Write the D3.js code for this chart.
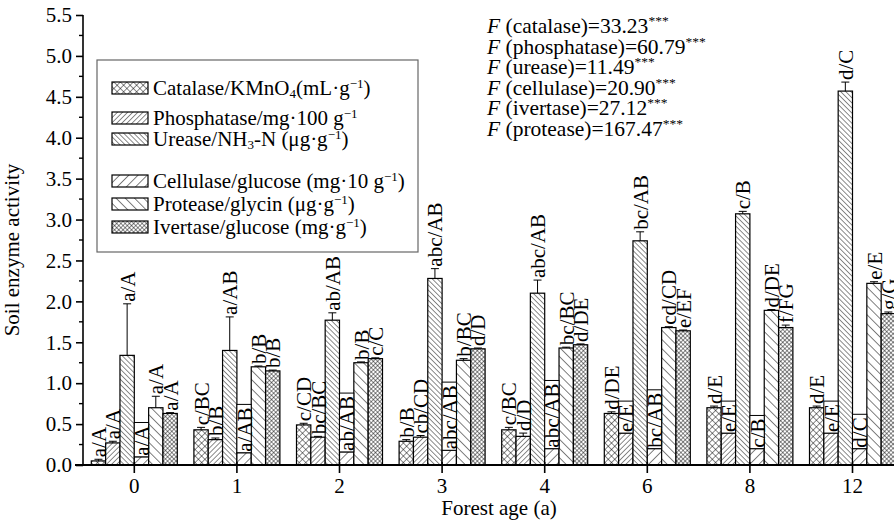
<!DOCTYPE html>
<html>
<head>
<meta charset="utf-8">
<script src="https://cdn.jsdelivr.net/npm/d3@7"></script>
<style>
  body { margin: 0; background: #fff; }
  svg { display: block; font-family: "Liberation Serif", "Times New Roman", serif; }
</style>
</head>
<body>
<div id="chart"></div>
<script>
// forest ages (x categories)
const ages = ["0", "1", "2", "3", "4", "6", "8", "12"];

// enzyme series
const seriesNames = ["Catalase", "Phosphatase", "Urease", "Cellulase", "Protease", "Ivertase"];
const catalase    = [0.05, 0.43, 0.49, 0.29, 0.43, 0.63, 0.70, 0.70];
const phosphatase = [0.27, 0.31, 0.34, 0.34, 0.35, 0.39, 0.39, 0.39];
const urease      = [1.34, 1.40, 1.77, 2.28, 2.10, 2.74, 3.07, 4.57];
const cellulase   = [0.10, 0.15, 0.16, 0.18, 0.20, 0.20, 0.20, 0.20];
const protease    = [0.70, 1.20, 1.25, 1.28, 1.43, 1.68, 1.89, 2.22];
const ivertase    = [0.63, 1.15, 1.30, 1.42, 1.47, 1.64, 1.68, 1.85];

// standard errors (upper bars only)
const catalaseErr    = [0.02, 0.03, 0.02, 0.02, 0.03, 0.02, 0.02, 0.02];
const phosphataseErr = [0.02, 0.02, 0.01, 0.02, 0.04, 0.02, 0.02, 0.02];
const ureaseErr      = [0.63, 0.41, 0.09, 0.12, 0.16, 0.11, 0.03, 0.11];
const cellulaseErr   = [0.01, 0.01, 0.01, 0.01, 0.01, 0.01, 0.01, 0.01];
const proteaseErr    = [0.14, 0.01, 0.01, 0.02, 0.01, 0.01, 0.01, 0.02];
const ivertaseErr    = [0.01, 0.01, 0.01, 0.01, 0.01, 0.01, 0.03, 0.02];

// significance letters
const catalaseLab    = ["a/A", "c/BC", "c/CD", "b/B", "c/BC", "d/DE", "d/E", "d/E"];
const phosphataseLab = ["a/A", "b/B", "bc/BC", "cb/CD", "d/D", "e/E", "e/E", "e/E"];
const ureaseLab      = ["a/A", "a/AB", "ab/AB", "abc/AB", "abc/AB", "bc/AB", "c/B", "d/C"];
const cellulaseLab   = ["a/A", "a/AB", "ab/AB", "abc/AB", "abc/AB", "bc/AB", "c/B", "d/C"];
const proteaseLab    = ["a/A", "b/B", "b/B", "b/BC", "bc/BC", "cd/CD", "d/DE", "e/E"];
const ivertaseLab    = ["a/A", "b/B", "c/C", "d/D", "d/DE", "e/EF", "f/FG", "g/G"];

// F statistics
const fNames  = ["catalase", "phosphatase", "urease", "cellulase", "ivertase", "protease"];
const fValues = ["33.23", "60.79", "11.49", "20.90", "27.12", "167.47"];

const yTicks = [0, 0.5, 1, 1.5, 2, 2.5, 3, 3.5, 4, 4.5, 5, 5.5];

const values = [catalase, phosphatase, urease, cellulase, protease, ivertase];
const errs = [catalaseErr, phosphataseErr, ureaseErr, cellulaseErr, proteaseErr, ivertaseErr];
const labs = [catalaseLab, phosphataseLab, ureaseLab, cellulaseLab, proteaseLab, ivertaseLab];

const width = 894, height = 521;
const plotLeft = 83, plotTop = 15, plotBottom = 465;
const fs = 21;

const svg = d3.select("#chart").append("svg")
  .attr("width", width)
  .attr("height", height);

// hatch patterns
const defs = svg.append("defs");
function hatch(id, size, angle, cross, sw) {
  const p = defs.append("pattern")
    .attr("id", id)
    .attr("patternUnits", "userSpaceOnUse")
    .attr("width", size).attr("height", size)
    .attr("patternTransform", `rotate(${angle})`);
  p.append("rect").attr("width", size).attr("height", size).attr("fill", "#fff");
  p.append("line").attr("x1", 0).attr("y1", 0).attr("x2", 0).attr("y2", size)
    .attr("stroke", "#000").attr("stroke-width", sw);
  if (cross) {
    p.append("line").attr("x1", 0).attr("y1", 0).attr("x2", size).attr("y2", 0)
      .attr("stroke", "#000").attr("stroke-width", sw);
  }
}
hatch("pCat", 4.6, 45, true, 0.9);
hatch("pPho", 3.6, 45, false, 0.9);
hatch("pUre", 3.6, -45, false, 0.9);
hatch("pCel", 6.5, 45, false, 1);
hatch("pPro", 6.5, -45, false, 1);
hatch("pIve", 3.0, 45, true, 0.9);
const fills = ["url(#pCat)", "url(#pPho)", "url(#pUre)", "url(#pCel)", "url(#pPro)", "url(#pIve)"];

const x = d3.scaleBand().domain(ages).range([plotLeft, plotLeft + 8 * 102.6]);
const xs = d3.scaleBand().domain(seriesNames).range([-43, 43]);
const y = d3.scaleLinear().domain([0, 5.5]).range([plotBottom, plotTop]);

// y axis with minor ticks
const yAxis = svg.append("g").attr("transform", `translate(${plotLeft},0)`)
  .call(d3.axisLeft(y).tickValues(yTicks).tickFormat(d3.format(".1f")).tickSize(7).tickPadding(4))
  .attr("font-family", null).attr("font-size", null);
yAxis.selectAll(".tick line").attr("stroke-width", 1.6);
yAxis.select(".domain").attr("stroke-width", 1.6).attr("d", `M0,${plotBottom}V${plotTop}`);
yAxis.selectAll("text").attr("font-size", fs).attr("fill", "#000");
svg.append("g").selectAll("line")
  .data(d3.range(0.25, 5.5, 0.5))
  .join("line")
  .attr("x1", plotLeft - 4).attr("x2", plotLeft)
  .attr("y1", d => y(d)).attr("y2", d => y(d))
  .attr("stroke", "#000").attr("stroke-width", 1.4);

const groups = svg.append("g");
ages.forEach((age, gi) => {
  const cx = x(age) + x.bandwidth() / 2;
  seriesNames.forEach((s, si) => {
    const v = values[si][gi];
    groups.append("rect")
      .attr("x", cx + xs(s)).attr("y", y(v))
      .attr("width", xs.bandwidth()).attr("height", plotBottom - y(v))
      .attr("fill", fills[si]).attr("stroke", "#000").attr("stroke-width", 1.2);
  });
});

// x axis on top of bars
const xAxis = svg.append("g").attr("transform", `translate(0,${plotBottom})`)
  .call(d3.axisBottom(x).tickSize(8).tickPadding(5).tickSizeOuter(0))
  .attr("font-family", null).attr("font-size", null);
xAxis.select(".domain").attr("stroke-width", 1.8).attr("d", `M${plotLeft - 8},0H${width + 20}`);
xAxis.selectAll(".tick line").attr("stroke-width", 1.6).attr("y1", -3);
xAxis.selectAll("text").attr("font-size", fs).attr("fill", "#000");

// error bars and letters
const ann = svg.append("g");
ages.forEach((age, gi) => {
  const cx = x(age) + x.bandwidth() / 2;
  seriesNames.forEach((s, si) => {
    const v = values[si][gi], e = errs[si][gi];
    const mx = cx + xs(s) + xs.bandwidth() / 2;
    const prev = si > 0 ? values[si - 1][gi] : -1;
    const next = si < seriesNames.length - 1 ? values[si + 1][gi] : -1;
    // letters squeezed between two clearly taller bars get a framed white box
    const framed = prev - v > 0.2 && next - v > 0.2;
    const t = ann.append("text")
      .attr("font-size", 21)
      .attr("text-anchor", "start")
      .attr("dominant-baseline", "central")
      .text(labs[si][gi]);
    if (framed) {
      const len = t.node().getComputedTextLength();
      ann.insert("rect", () => t.node())
        .attr("x", cx + xs(s)).attr("width", xs.bandwidth())
        .attr("y", y(v) - len - 4).attr("height", len + 4)
        .attr("fill", "#fff").attr("stroke", "#000").attr("stroke-width", 1);
      t.attr("transform", `translate(${mx + 0.5},${y(v) - 1}) rotate(-90)`);
    } else {
      ann.append("line")
        .attr("x1", mx).attr("x2", mx)
        .attr("y1", y(v)).attr("y2", y(v + e))
        .attr("stroke", "#000").attr("stroke-width", 1);
      ann.append("line")
        .attr("x1", mx - 4).attr("x2", mx + 4)
        .attr("y1", y(v + e)).attr("y2", y(v + e))
        .attr("stroke", "#000").attr("stroke-width", 1);
      t.attr("transform", `translate(${mx + 0.5},${y(v + e) - 2}) rotate(-90)`);
    }
  });
});

// axis titles
svg.append("text")
  .attr("transform", `translate(19,250) rotate(-90)`)
  .attr("text-anchor", "middle").attr("font-size", fs)
  .text("Soil enzyme activity");
svg.append("text")
  .attr("x", 499).attr("y", 515)
  .attr("text-anchor", "middle").attr("font-size", fs)
  .text("Forest age (a)");

// legend
const legend = svg.append("g");
legend.append("rect")
  .attr("x", 97).attr("y", 60).attr("width", 321).attr("height", 192)
  .attr("fill", "#fff").attr("stroke", "#666").attr("stroke-width", 1.2);
const legendY = [88, 118, 139, 181, 204, 227];
const legendParts = [
  [["Catalase/KMnO", 0], ["4", -1], ["(mL·g", 0], ["−1", 1], [")", 0]],
  [["Phosphatase/mg·100 g", 0], ["−1", 1]],
  [["Urease/NH", 0], ["3", -1], ["-N (μg·g", 0], ["−1", 1], [")", 0]],
  [["Cellulase/glucose (mg·10 g", 0], ["−1", 1], [")", 0]],
  [["Protease/glycin (μg·g", 0], ["−1", 1], [")", 0]],
  [["Ivertase/glucose (mg·g", 0], ["−1", 1], [")", 0]]
];
seriesNames.forEach((s, i) => {
  legend.append("rect")
    .attr("x", 112).attr("y", legendY[i] - 6).attr("width", 36).attr("height", 12)
    .attr("fill", fills[i]).attr("stroke", "#000").attr("stroke-width", 1.2);
  const t = legend.append("text")
    .attr("x", 153).attr("y", legendY[i] + 7).attr("font-size", fs);
  legendParts[i].forEach(([str, shift]) => {
    const sp = t.append("tspan").text(str);
    if (shift !== 0) {
      sp.attr("font-size", 13).attr("baseline-shift", shift > 0 ? "55%" : "-25%");
    }
  });
});

// F statistics block
const fBlock = svg.append("g");
fNames.forEach((n, i) => {
  const t = fBlock.append("text")
    .attr("x", 487).attr("y", 33 + i * 20.6).attr("font-size", 21.5);
  t.append("tspan").attr("font-style", "italic").text("F");
  t.append("tspan").text(` (${n})=${fValues[i]}`);
  t.append("tspan").attr("font-size", 13.5).attr("baseline-shift", "55%").text("***");
});
</script>
</body>
</html>
